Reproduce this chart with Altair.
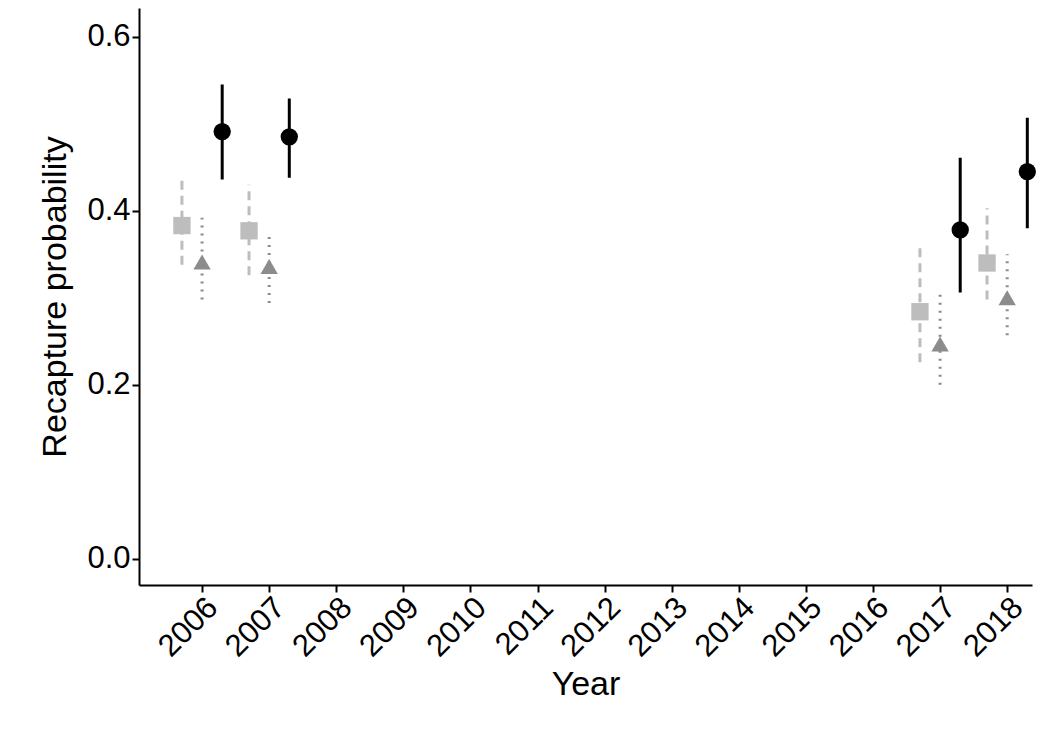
import altair as alt
import pandas as pd

years = [2006, 2007, 2017, 2018]

sq_est = [0.383, 0.377, 0.284, 0.340]
sq_lo = [0.338, 0.326, 0.226, 0.298]
sq_hi = [0.441, 0.430, 0.361, 0.403]

tri_est = [0.341, 0.336, 0.247, 0.300]
tri_lo = [0.298, 0.294, 0.200, 0.257]
tri_hi = [0.392, 0.375, 0.309, 0.350]

cir_est = [0.491, 0.485, 0.378, 0.445]
cir_lo = [0.436, 0.438, 0.306, 0.380]
cir_hi = [0.545, 0.529, 0.461, 0.507]

tick_years = list(range(2006, 2019))


def series(est, lo, hi, group):
    return pd.DataFrame({"year": years, "est": est, "lo": lo, "hi": hi, "group": group})


df = pd.concat([
    series(sq_est, sq_lo, sq_hi, "a"),
    series(tri_est, tri_lo, tri_hi, "b"),
    series(cir_est, cir_lo, cir_hi, "c"),
])

x = alt.X(
    "pos:Q",
    title="Year",
    scale=alt.Scale(domain=[2005.06, 2018.37], nice=False, zero=False),
    axis=alt.Axis(values=tick_years, format="d", labelAngle=-45, labelAlign="right",
                  labelBaseline="top", labelOverlap=False, labelFlush=False,
                  grid=False, tickSize=7, labelFontSize=31,
                  titleFontSize=34, titleFontWeight="normal", labelColor="black",
                  titleColor="black", domainColor="black", tickColor="black",
                  domainWidth=2, tickWidth=2, labelPadding=0, titlePadding=6),
)
y = alt.Y(
    "est:Q",
    title="Recapture probability",
    scale=alt.Scale(domain=[-0.03, 0.633], nice=False, zero=False),
    axis=alt.Axis(values=[0, 0.2, 0.4, 0.6], format=".1f", grid=False, tickSize=7,
                  labelFontSize=31, titleFontSize=34, titleFontWeight="normal",
                  labelColor="black", titleColor="black", domainColor="black",
                  tickColor="black", domainWidth=2, tickWidth=2, titlePadding=14),
)

styles = [
    ("a", -0.3, "#bdbdbd", [9, 6], "square"),
    ("b", 0.0, "#8c8c8c", [2, 6], "triangle-up"),
    ("c", 0.3, "black", [1, 0], "circle"),
]

layers = []
for g, off, col, dash, shape in styles:
    base = alt.Chart(df).transform_filter(alt.datum.group == g).transform_calculate(
        pos=f"datum.year + {off}")
    layers.append(base.mark_rule(color=col, strokeDash=dash, strokeWidth=3).encode(
        x=x, y=alt.Y("lo:Q", scale=alt.Scale(domain=[-0.03, 0.633], nice=False)), y2="hi:Q"))
    layers.append(base.mark_point(shape=shape, filled=True, opacity=1, color=col,
                                  size=300).encode(x=x, y=y))

chart = alt.layer(*layers).properties(
    width=893, height=577, padding={"left": 30, "top": 0, "right": 5, "bottom": 0}
).configure_view(stroke=None).configure_axis(labelFont="Liberation Sans", titleFont="Liberation Sans")

chart.save("out.html", embed_options={"renderer": "svg", "actions": False})
